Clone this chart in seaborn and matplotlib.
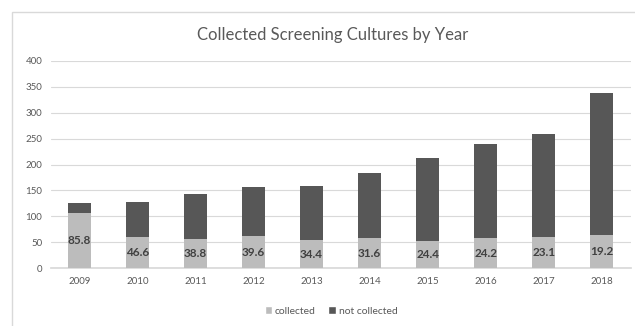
import matplotlib
matplotlib.use("Agg")
import matplotlib.pyplot as plt
import seaborn as sns
import pandas as pd
from matplotlib.patches import Rectangle, Patch

years = ["2009", "2010", "2011", "2012", "2013", "2014", "2015", "2016", "2017", "2018"]
collected = [107, 60, 56, 62, 55, 58, 52, 58, 60, 65]
not_collected = [18, 68, 88, 95, 104, 126, 160, 181, 198, 272]
pct_labels = ["85.8", "46.6", "38.8", "39.6", "34.4", "31.6", "24.4", "24.2", "23.1", "19.2"]
yticks = [0, 50, 100, 150, 200, 250, 300, 350, 400]

light = "#bcbcbc"
dark = "#575757"
txt = "#595959"

sns.set_theme(style="white")
plt.rcParams["font.family"] = ["Lato", "DejaVu Sans"]

df = pd.DataFrame({"year": years, "collected": collected, "not_collected": not_collected})
df["total"] = df["collected"] + df["not_collected"]

fig = plt.figure(figsize=(6.35, 3.26), dpi=100)
ax = fig.add_axes([50.5 / 635, 1 - 268.3 / 326, (630.7 - 50.5) / 635, (268.3 - 60.7) / 326])

sns.barplot(data=df, x="year", y="total", color=dark, width=0.4, ax=ax, saturation=1,
            linewidth=0, edgecolor="none", zorder=3)
sns.barplot(data=df, x="year", y="collected", color=light, width=0.4, ax=ax, saturation=1,
            linewidth=0, edgecolor="none", zorder=3)

for i, (c, lab) in enumerate(zip(collected, pct_labels)):
    ax.text(i, c / 2, lab, ha="center", va="center", fontsize=8.5, fontweight="bold",
            color="#404040", zorder=4)

ax.set_ylim(0, 400)
ax.set_yticks(yticks)
ax.set_yticklabels([str(v) for v in yticks])
ax.grid(axis="y", color="#d9d9d9", linewidth=0.8, zorder=0)
ax.set_axisbelow(True)
for s in ax.spines.values():
    s.set_visible(False)
ax.spines["bottom"].set_visible(True)
ax.spines["bottom"].set_color("#d9d9d9")
ax.set_xlabel("")
ax.set_ylabel("")
ax.tick_params(axis="both", length=0, labelsize=7, colors=txt, pad=6)

fig.text(333 / 635, 1 - 35 / 326, "Collected Screening Cultures by Year", ha="center", va="center",
         fontsize=12, color=txt)

handles = [Patch(facecolor=light, label="collected"), Patch(facecolor=dark, label="not collected")]
fig.legend(handles=handles, loc="center", bbox_to_anchor=(331 / 635, 1 - 311 / 326), ncol=2,
           frameon=False, fontsize=7.5, handlelength=0.7, handleheight=0.7, handletextpad=0.3,
           columnspacing=1.2, labelcolor=txt)

fig.patches.append(Rectangle((12 / 635, -0.1), 1.2, 1 - 12 / 326 + 0.1, transform=fig.transFigure,
                             fill=False, edgecolor="#d9d9d9", linewidth=1, zorder=0))

fig.savefig("out.png", dpi=100)
